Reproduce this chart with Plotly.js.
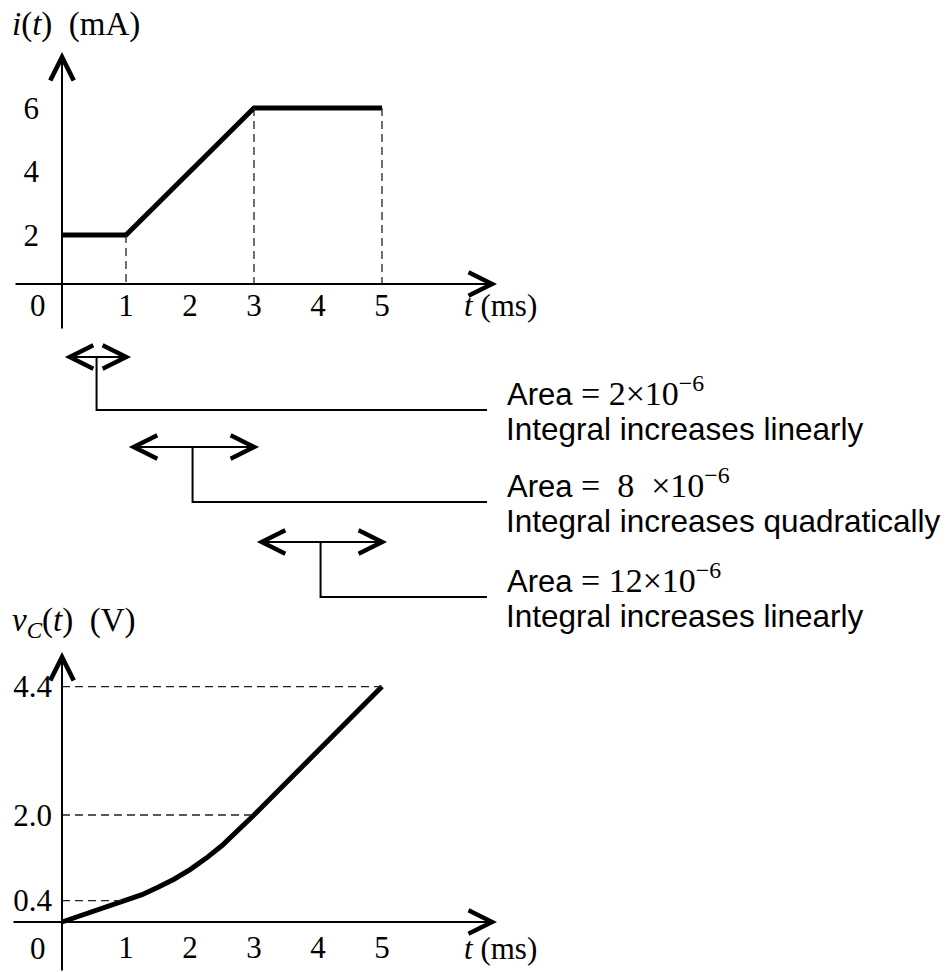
<!DOCTYPE html>
<html>
<head>
<meta charset="utf-8">
<script src="https://cdn.plot.ly/plotly-3.0.1.min.js"></script>
<style>html,body{margin:0;padding:0;background:#fff;}#chart{width:948px;height:972px;}</style>
</head>
<body>
<div id="chart"></div>
<script>
// ---------- data ----------
const tTicks = [1, 2, 3, 4, 5];
const iTicks = [2, 4, 6];
const vTicks = [0.4, 2.0, 4.4];
const vTickText = ['0.4', '2.0', '4.4'];

// current i(t) in mA
const tCurrent = [0, 1, 3, 5];
const iCurrent = [2, 2, 6, 6];

// capacitor voltage v_C(t) in V
const tVoltage = [0, 1, 1.25, 1.5, 1.75, 2, 2.25, 2.5, 2.75, 3, 5];
const vVoltage = [0, 0.4, 0.51, 0.65, 0.8, 0.98, 1.19, 1.43, 1.7, 2.0, 4.4];

// breakpoints marked with dashed guides
const tMarks = [1, 3, 5];
const iMarks = [2, 6, 6];
const vMarks = [0.4, 2.0, 4.4];

// intervals and their areas (x 10^-6)
const segStart = [0, 1, 3];
const segEnd = [1, 3, 5];
const areaCoef = ['2', '8', '12'];
const growth = ['linearly', 'quadratically', 'linearly'];

// ---------- geometry (pixels) ----------
const W = 948, H = 972;
const pxPerMs = 64, x0px = 62;
const xr = [-x0px / pxPerMs, (W - x0px) / pxPerMs];
const p2t = px => (px - x0px) / pxPerMs;
const py2paper = py => 1 - py / H;

// top plot y mapping
const iScale = 31.75, i2py = 235; // i=2 at py 235
const py2i = py => 2 + (i2py - py) / iScale;
const topDom = [0, 340];
// bottom plot y mapping
const vScale = 53.5, v0py = 922;
const py2v = py => (v0py - py) / vScale;
const botDom = [630, 972];

const serif = 'Liberation Serif, Times New Roman, serif';
const sans = 'Liberation Sans, Arial, sans-serif';

const traces = [
  {x: tCurrent, y: iCurrent, xaxis: 'x', yaxis: 'y', mode: 'lines',
   line: {color: '#000', width: 5}, hoverinfo: 'skip', cliponaxis: false},
  {x: tVoltage, y: vVoltage, xaxis: 'x2', yaxis: 'y2', mode: 'lines',
   line: {color: '#000', width: 5}, hoverinfo: 'skip', cliponaxis: false}
];

const topAxisI = py2i(284);
const shapes = [];
const dashLine = {color: '#222', width: 1.3, dash: '8px,5px'};
tMarks.forEach((t, k) => {
  shapes.push({type: 'line', xref: 'x', yref: 'y', x0: t, x1: t, y0: iMarks[k], y1: topAxisI, line: dashLine});
  shapes.push({type: 'line', xref: 'x2', yref: 'y2', x0: 0, x1: t, y0: vMarks[k], y1: vMarks[k], line: dashLine});
});

// brackets from interval arrows to the explanation texts
const arrowPy = [357, 447, 542];
const bracketPy = [410, 502, 597];
const bracketEndT = p2t(487);
segStart.forEach((s, k) => {
  const mid = (s + segEnd[k]) / 2 + 0.04;
  shapes.push({type: 'path', xref: 'x', yref: 'paper',
    path: `M${mid},${py2paper(arrowPy[k])} L${mid},${py2paper(bracketPy[k])} L${bracketEndT},${py2paper(bracketPy[k])}`,
    line: {color: '#000', width: 2}});
});

const annotations = [];
const axArrow = {showarrow: true, arrowhead: 5, arrowsize: 2.3, arrowwidth: 2, arrowcolor: '#000', text: '', standoff: 0};
// top axes
annotations.push(Object.assign({}, axArrow, {xref: 'x', yref: 'y', axref: 'x', ayref: 'y',
  x: p2t(497), y: topAxisI, ax: p2t(14), ay: topAxisI}));
annotations.push(Object.assign({}, axArrow, {xref: 'x', yref: 'y', axref: 'x', ayref: 'y',
  x: 0, y: py2i(52), ax: 0, ay: py2i(330)}));
// bottom axes
annotations.push(Object.assign({}, axArrow, {xref: 'x2', yref: 'y2', axref: 'x2', ayref: 'y2',
  x: p2t(497), y: 0, ax: p2t(12), ay: 0}));
annotations.push(Object.assign({}, axArrow, {xref: 'x2', yref: 'y2', axref: 'x2', ayref: 'y2',
  x: 0, y: py2v(652), ax: 0, ay: py2v(972)}));

// interval double arrows
segStart.forEach((s, k) => {
  annotations.push(Object.assign({}, axArrow, {xref: 'x', yref: 'paper', axref: 'x', ayref: 'pixel',
    x: segEnd[k] + 0.08, y: py2paper(arrowPy[k]), ax: s + 0.02, ay: 0,
    arrowside: 'end+start', startarrowhead: 5, startarrowsize: 2.3}));
});

// explanation texts
const nb = '\u00a0';
segStart.forEach((s, k) => {
  const coef = k === 1 ? nb + areaCoef[k] + nb + nb : areaCoef[k];
  annotations.push({xref: 'paper', yref: 'paper', x: 505 / W, y: py2paper(bracketPy[k] - 19),
    xanchor: 'left', yanchor: 'middle', showarrow: false,
    text: `<span style="font-family:${sans};font-size:31px">Area</span> = ${coef}×10<sup>−6</sup>`,
    font: {family: serif, size: 34, color: '#000'}});
  annotations.push({xref: 'paper', yref: 'paper', x: 504 / W, y: py2paper(bracketPy[k] + 19),
    xanchor: 'left', yanchor: 'middle', showarrow: false,
    text: `Integral increases ${growth[k]}`,
    font: {family: sans, size: 31.5, color: '#000'}});
});

// axis titles and origin labels
annotations.push({xref: 'paper', yref: 'paper', x: 10 / W, y: py2paper(24), xanchor: 'left', yanchor: 'middle',
  showarrow: false, text: '<i>i</i>(<i>t</i>)' + nb + nb + '(mA)', font: {family: serif, size: 33, color: '#000'}});
annotations.push({xref: 'paper', yref: 'paper', x: 10 / W, y: py2paper(622), xanchor: 'left', yanchor: 'middle',
  showarrow: false, text: '<i>v</i><sub><i>C</i></sub>(<i>t</i>)' + nb + nb + '(V)', font: {family: serif, size: 33, color: '#000'}});
[305, 948].forEach(py => {
  annotations.push({xref: 'paper', yref: 'paper', x: 38 / W, y: py2paper(py), xanchor: 'center', yanchor: 'middle',
    showarrow: false, text: '0', font: {family: serif, size: 31, color: '#000'}});
});
[305, 948].forEach(py => {
  annotations.push({xref: 'paper', yref: 'paper', x: 462 / W, y: py2paper(py), xanchor: 'left', yanchor: 'middle',
    showarrow: false, text: '<i>t</i>' + nb + '(ms)', font: {family: serif, size: 31, color: '#000'}});
});

const tickFont = {family: serif, size: 31, color: '#000'};
const baseX = {range: xr, domain: [0, 1], showgrid: false, zeroline: false, showline: false, ticks: '',
  tickvals: tTicks, ticktext: tTicks.map(String), tickfont: tickFont, anchor: 'free', fixedrange: true};
const layout = {
  width: W, height: H, margin: {l: 0, r: 0, t: 0, b: 0}, paper_bgcolor: '#fff', plot_bgcolor: 'rgba(0,0,0,0)',
  showlegend: false,
  xaxis: Object.assign({}, baseX, {position: py2paper(284), ticklabelstandoff: 0}),
  xaxis2: Object.assign({}, baseX, {position: py2paper(v0py), ticklabelstandoff: 4}),
  yaxis: {range: [py2i(topDom[1]), py2i(topDom[0])], domain: [py2paper(topDom[1]), py2paper(topDom[0])],
    showgrid: false, zeroline: false, showline: false, ticks: '', tickvals: iTicks, ticktext: iTicks.map(String),
    tickfont: tickFont, anchor: 'free', position: x0px / W, ticklabelstandoff: 23, fixedrange: true},
  yaxis2: {range: [py2v(botDom[1]), py2v(botDom[0])], domain: [py2paper(botDom[1]), py2paper(botDom[0])],
    showgrid: false, zeroline: false, showline: false, ticks: '', tickvals: vTicks, ticktext: vTickText,
    tickfont: tickFont, anchor: 'free', position: x0px / W, ticklabelstandoff: 10, fixedrange: true},
  shapes: shapes,
  annotations: annotations
};
Plotly.newPlot('chart', traces, layout, {staticPlot: true, displayModeBar: false});
</script>
</body>
</html>
